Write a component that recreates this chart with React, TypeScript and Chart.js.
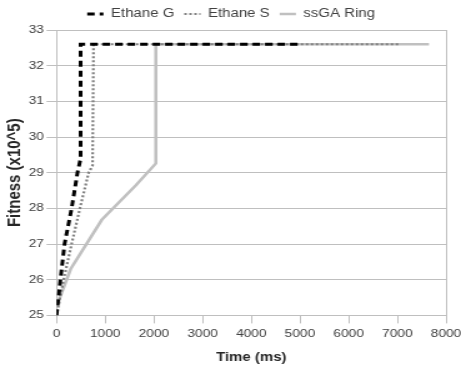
import React, { useEffect, useRef } from "react";
import { Chart, registerables } from "chart.js";
Chart.register(...registerables);

const ethaneGX = [0, 80, 165, 310, 430, 495, 495, 5000];
const ethaneGY = [25, 26, 27, 28, 29, 29.4, 32.6, 32.6];
const ethaneSX = [0, 145, 310, 480, 660, 740, 760, 7050];
const ethaneSY = [25, 26, 27, 28, 29, 29.2, 32.6, 32.6];
const ringX = [0, 290, 930, 1630, 2040, 2040, 7650];
const ringY = [25.25, 26.3, 27.68, 28.65, 29.26, 32.6, 32.6];
const seriesNames = ["Ethane G", "Ethane S", "ssGA Ring"];

const pts = (xs: number[], ys: number[]) => xs.map((x, i) => ({ x, y: ys[i] }));

const borderPlugin = {
  id: "areaBorder",
  beforeLayout(chart: any) {
    const lg = chart.legend;
    if (lg && !lg.__patched) {
      lg.__patched = true;
      const orig = lg.fit.bind(lg);
      lg.fit = function () {
        orig();
        this.height = 30;
      };
    }
  },
  afterDraw(chart: any) {
    const { ctx, chartArea } = chart;
    ctx.save();
    ctx.strokeStyle = "#bfbfbf";
    ctx.lineWidth = 1;
    ctx.beginPath();
    ctx.moveTo(Math.round(chartArea.right) + 0.5, chartArea.top);
    ctx.lineTo(Math.round(chartArea.right) + 0.5, chartArea.bottom);
    ctx.stroke();
    ctx.restore();
  },
};

export default function App() {
  const ref = useRef<HTMLCanvasElement>(null);
  useEffect(() => {
    document.body.style.margin = "0";
    const font = "'Liberation Sans', Arial, sans-serif";
    const chart = new Chart(ref.current!, {
      type: "scatter",
      data: {
        datasets: [
          {
            label: seriesNames[0],
            data: pts(ethaneGX, ethaneGY),
            showLine: true,
            borderColor: "#000000",
            backgroundColor: "#000000",
            borderWidth: 3,
            borderDash: [6, 4],
            pointRadius: 0,
          },
          {
            label: seriesNames[1],
            data: pts(ethaneSX, ethaneSY),
            showLine: true,
            borderColor: "#808080",
            backgroundColor: "#808080",
            borderWidth: 2.2,
            borderDash: [2, 2],
            pointRadius: 0,
          },
          {
            label: seriesNames[2],
            data: pts(ringX, ringY),
            showLine: true,
            borderColor: "#c0c0c0",
            backgroundColor: "#c0c0c0",
            borderWidth: 2.6,
            pointRadius: 0,
          },
        ],
      },
      options: {
        responsive: false,
        animation: false,
        layout: { padding: { left: 1, right: 0, top: 0, bottom: 2 } },
        plugins: {
          tooltip: { enabled: false },
          legend: {
            position: "top",
            labels: {
              boxWidth: 13,
              boxHeight: 0,
              padding: 8,
              color: "#404040",
              font: { family: font, size: 12 },
            },
          },
        },
        scales: {
          x: {
            type: "linear",
            min: 0,
            max: 8000,
            afterFit: (scale: any) => {
              scale.paddingRight = 12;
            },
            ticks: {
              stepSize: 1000,
              color: "#404040",
              font: { family: font, size: 11 },
              maxRotation: 0,
              padding: 4,
              callback: (v: any) => String(v),
            },
            grid: { display: true, drawOnChartArea: false, color: "#bfbfbf", tickLength: 8 },
            border: { color: "#bfbfbf" },
            title: { display: true, text: "Time (ms)", color: "#262626", font: { family: font, size: 12, weight: "bold" }, padding: { top: 6, bottom: 2 } },
          },
          y: {
            min: 25,
            max: 33,
            ticks: { stepSize: 1, color: "#404040", font: { family: font, size: 11 }, padding: 2 },
            grid: { color: "#bfbfbf", tickLength: 8 },
            border: { color: "#bfbfbf" },
            title: { display: true, text: "Fitness (x10^5)", color: "#262626", font: { family: font, size: 15, weight: "bold" }, padding: { top: 2, bottom: 0 } },
          },
        },
      },
      plugins: [borderPlugin],
    });
    return () => chart.destroy();
  }, []);
  return (
    <canvas
      ref={ref}
      width={369}
      height={369}
      style={{ width: "461px", height: "369px", display: "block" }}
    />
  );
}
